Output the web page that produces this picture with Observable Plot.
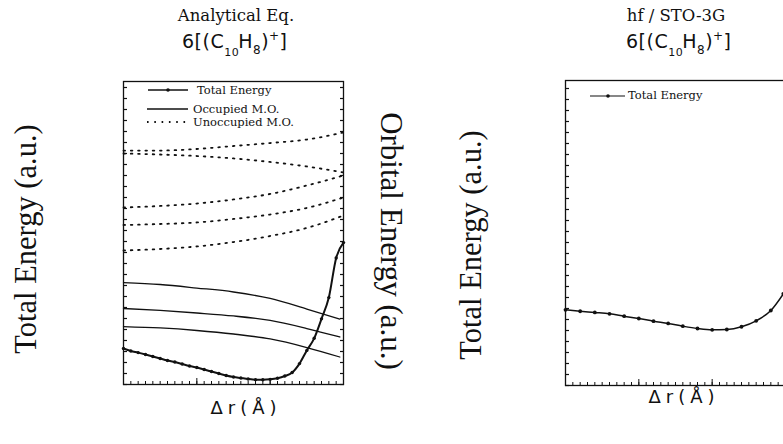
<!DOCTYPE html>
<html><head><meta charset="utf-8">
<script src="https://cdn.jsdelivr.net/npm/d3@7"></script>
<script src="https://cdn.jsdelivr.net/npm/@observablehq/plot@0.6"></script>
<style>
html,body{margin:0;padding:0;background:#fff;overflow:hidden}
#wrap{position:relative;width:783px;height:444px;overflow:hidden;background:#fff}
.panel{position:absolute}
#overlay{position:absolute;left:0;top:0;pointer-events:none}
</style></head>
<body><div id="wrap">
<div id="left" class="panel" style="left:122px;top:80px;width:222px;height:305px"></div>
<div id="right" class="panel" style="left:564px;top:79px;width:222px;height:307px"></div>
<svg id="overlay" width="783" height="444" fill="#111">
  <!-- titles -->
  <text x="236" y="21" text-anchor="middle" font-family="DejaVu Serif" font-size="16.5">Analytical Eq.</text>
  <text x="676" y="21" text-anchor="middle" font-family="DejaVu Serif" font-size="16.5">hf / STO-3G</text>
  <text x="182" y="48" font-family="DejaVu Sans" font-size="19" letter-spacing="0.5">6[(C<tspan font-size="11" dx="0" dy="8">10</tspan><tspan dx="-1" dy="-8">H</tspan><tspan font-size="12" dy="6">8</tspan><tspan dy="-6">)</tspan><tspan font-size="12" dy="-8">+</tspan><tspan dy="8">]</tspan></text>
  <text x="626" y="48" font-family="DejaVu Sans" font-size="19" letter-spacing="0.5">6[(C<tspan font-size="11" dx="0" dy="8">10</tspan><tspan dx="-1" dy="-8">H</tspan><tspan font-size="12" dy="6">8</tspan><tspan dy="-6">)</tspan><tspan font-size="12" dy="-8">+</tspan><tspan dy="8">]</tspan></text>
  <!-- axis titles -->
  <text transform="translate(36,239) rotate(-90)" text-anchor="middle" font-family="Liberation Serif" font-size="30.5">Total Energy (a.u.)</text>
  <text transform="translate(381,241) rotate(90)" text-anchor="middle" font-family="Liberation Serif" font-size="31">Orbital Energy (a.u.)</text>
  <text transform="translate(481,245) rotate(-90)" text-anchor="middle" font-family="Liberation Serif" font-size="30.5">Total Energy (a.u.)</text>
  <text x="246" y="414" text-anchor="middle" font-family="DejaVu Sans" font-size="18" letter-spacing="5">Δr(Å)</text>
  <text x="684" y="403" text-anchor="middle" font-family="DejaVu Sans" font-size="18" letter-spacing="5">Δr(Å)</text>
  <!-- legends -->
  <g font-family="DejaVu Serif" font-size="11.5">
    <line x1="148" y1="90" x2="188" y2="90" stroke="#111" stroke-width="1.3"/>
    <circle cx="168" cy="90" r="1.8"/>
    <text x="197" y="94">Total Energy</text>
    <line x1="147" y1="109" x2="188" y2="109" stroke="#111" stroke-width="1.3"/>
    <text x="193" y="113">Occupied M.O.</text>
    <line x1="147" y1="122" x2="190" y2="122" stroke="#111" stroke-width="1.8" stroke-dasharray="1.6,5.7"/>
    <text x="193" y="126">Unoccupied M.O.</text>
    <line x1="590" y1="96" x2="625" y2="96" stroke="#111" stroke-width="1.2"/>
    <circle cx="608" cy="96" r="1.8"/>
    <text x="628" y="99">Total Energy</text>
  </g>
</svg>
</div>
<script>
// ---- data (y in axis tick units) ----
const xTotal = [0,1,2,3,4,5,6,7,8,9,10,11,12,13,14,15,16,17,18,19,20,21,22,23,24,25,26,27,28,29,30];
const totalAnalytical = [3.27,3.05,2.9,2.73,2.55,2.36,2.18,2.05,1.86,1.68,1.55,1.36,1.18,1.0,0.82,0.68,0.59,0.5,0.44,0.43,0.47,0.57,0.77,1.09,1.9,3.1,4.2,5.97,7.9,11.5,12.9];

const xOcc = [0,5,10,15,20,25,29.5];
const occ1 = [9.27,9.09,8.77,8.41,7.82,6.86,5.95];
const occ2 = [6.91,6.73,6.5,6.23,5.82,5.09,4.32];
const occ3 = [5.27,5.14,4.91,4.59,4.14,3.36,2.5];

const xUnocc = [0,5,10,15,20,25,30];
const unocc1 = [21.27,21.27,21.41,21.68,21.95,22.27,22.91];
const unocc2 = [21.0,20.91,20.77,20.55,20.23,19.82,19.27];
const unocc3 = [16.09,16.23,16.45,16.82,17.32,18.09,19.0];
const unocc4 = [14.5,14.59,14.73,15.05,15.45,16.05,17.0];
const unocc5 = [12.18,12.32,12.55,12.95,13.5,14.23,15.36];

const xHF = [0,2,4,6,8,10,12,14,16,18,20,22,24,26,28,29.7];
const totalHF = [6.88,6.75,6.64,6.52,6.3,6.09,5.85,5.64,5.39,5.18,5.06,5.09,5.34,5.88,6.82,8.33];

const yTicks = [0,1,2,3,4,5,6,7,8,9,10,11,12,13,14,15,16,17,18,19,20,21,22,23,24,25,26,27];
const xMinor = [0,1,2,3,4,5,6,7,8,9,10,11,12,13,14,15,16,17,18,19,20,21,22,23,24,25,26,27,28,29,30];
const xMajor = [10,20];

// ---- build tables ----
const rows = (xs, ys, s) => xs.map((x, i) => ({x, y: ys[i], s}));
const teRows = rows(xTotal, totalAnalytical, "te");
const occRows = [...rows(xOcc, occ1, "o1"), ...rows(xOcc, occ2, "o2"), ...rows(xOcc, occ3, "o3")];
const unoccRows = [...rows(xUnocc, unocc1, "u1"), ...rows(xUnocc, unocc2, "u2"), ...rows(xUnocc, unocc3, "u3"),
                   ...rows(xUnocc, unocc4, "u4"), ...rows(xUnocc, unocc5, "u5")];
const hfRows = rows(xHF, totalHF, "hf");

const blank = () => "";
const ink = "#111";
const style = {background: "transparent", overflow: "visible", maxWidth: "none", color: ink};

const tickMarks = (withRight) => [
  Plot.axisY({anchor: "left", ticks: yTicks, tickSize: 4, dx: 4, tickFormat: blank, label: null, stroke: ink, strokeWidth: 1.2}),
  ...(withRight ? [Plot.axisY({anchor: "right", ticks: yTicks, tickSize: 4, dx: -4, tickFormat: blank, label: null, stroke: ink, strokeWidth: 1.2})] : []),
  Plot.axisX({anchor: "bottom", ticks: xMinor, tickSize: 3, dy: -3, tickFormat: blank, label: null, stroke: ink, strokeWidth: 1}),
  Plot.axisX({anchor: "bottom", ticks: xMajor, tickSize: 6, dy: -6, tickFormat: blank, label: null, stroke: ink, strokeWidth: 1})
];

const left = Plot.plot({
  width: 222, height: 305,
  marginLeft: 1, marginRight: 1, marginTop: 1, marginBottom: 1,
  x: {domain: [0, 30]},
  y: {domain: [0, 303 / 11]},
  style,
  marks: [
    ...tickMarks(true),
    Plot.line(unoccRows, {x: "x", y: "y", z: "s", curve: "monotone-x", stroke: ink, strokeWidth: 1.8, strokeDasharray: "1.6,5.7"}),
    Plot.line(occRows, {x: "x", y: "y", z: "s", curve: "monotone-x", stroke: ink, strokeWidth: 1.3}),
    Plot.line(teRows, {x: "x", y: "y", curve: "monotone-x", stroke: ink, strokeWidth: 2}),
    Plot.dot(teRows, {x: "x", y: "y", r: 1.7, fill: ink}),
    Plot.frame({stroke: ink, strokeWidth: 1.3})
  ]
});
document.getElementById("left").append(left);

const right = Plot.plot({
  width: 222, height: 307,
  marginLeft: 1, marginRight: 1, marginTop: 1, marginBottom: 1,
  x: {domain: [0, 30]},
  y: {domain: [0, 305 / 11]},
  style,
  marks: [
    ...tickMarks(false),
    Plot.line(hfRows, {x: "x", y: "y", curve: "monotone-x", stroke: ink, strokeWidth: 1.5}),
    Plot.dot(hfRows, {x: "x", y: "y", r: 1.9, fill: ink}),
    Plot.frame({stroke: ink, strokeWidth: 1.3})
  ]
});
document.getElementById("right").append(right);
</script></body></html>
